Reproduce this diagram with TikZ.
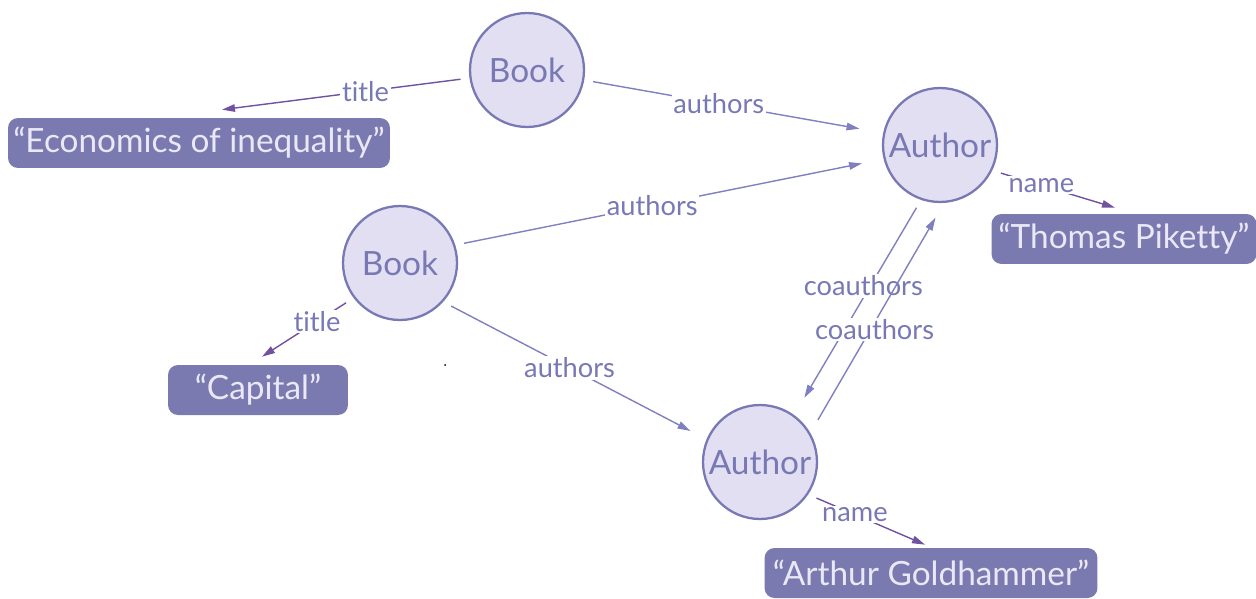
\documentclass[tikz,border=0pt]{standalone}
\usepackage{fontspec}
\setmainfont{Lato}[Ligatures={NoCommon}]
\usetikzlibrary{arrows.meta,calc}

\definecolor{conceptfill}{RGB}{226,223,242}
\definecolor{conceptline}{RGB}{120,120,180}
\definecolor{literalfill}{RGB}{122,122,176}
\definecolor{literaltext}{RGB}{234,232,246}
\definecolor{reledge}{RGB}{128,128,192}
\definecolor{attredge}{RGB}{112,82,160}
\definecolor{lbltext}{RGB}{120,120,182}

\begin{document}
\begin{tikzpicture}[x=0.02cm,y=-0.02cm,
  concept/.style={circle,draw=conceptline,line width=1.3pt,fill=conceptfill,
    minimum size=2.28cm,inner sep=0pt,text=conceptline,font=\fontsize{19}{22}\selectfont},
  literal/.style={rounded corners=0.2cm,fill=literalfill,text=literaltext,
    minimum height=1cm,inner sep=0pt,font=\fontsize{19}{22}\selectfont},
  rel/.style={draw=reledge,line width=0.8pt,-{Triangle[length=0.26cm,width=0.15cm]},shorten <=0.18cm},
  attr/.style={rel,draw=attredge},
  lbl/.style={fill=white,text=lbltext,inner sep=1pt,font=\fontsize{15.5}{18}\selectfont}]
\useasboundingbox (0,0) rectangle (1256,598);

% concepts
\node[concept] (book1) at (527,70) {Book};
\node[concept] (book2) at (400,263) {Book};
\node[concept] (author1) at (940,145) {Author};
\node[concept] (author2) at (760,462) {Author};

% literals
\node[literal,minimum width=7.64cm] (econ) at (199,143) {“Economics of inequality”};
\node[literal,minimum width=5.3cm] (thomas) at (1124,239) {“Thomas Piketty”};
\node[literal,minimum width=3.6cm] (capital) at (258,390) {“Capital”};
\node[literal,minimum width=6.66cm] (arthur) at (931,573) {“Arthur Goldhammer”};

% relations
\draw[attr] (book1.188) -- ($(econ.north)+(23,-8)$) node[lbl,pos=0.42]{title};
\draw[rel,shorten >=0.48cm] (book1.350) -- (author1.168) node[lbl,pos=0.45]{authors};
\draw[rel,shorten >=0.44cm] (book2.18) -- (author1.194) node[lbl,pos=0.46]{authors};
\draw[attr] (author1.334) -- ($(thomas.north)+(-9,-6)$) node[lbl,pos=0.4]{name};
\draw[attr] (book2.217) -- ($(capital.north)+(4,-8)$) node[lbl,pos=0.4]{title};
\draw[rel,shorten >=0.36cm] (book2.318) -- (author2.157) node[lbl,pos=0.48]{authors};
\draw[rel,shorten >=0.4cm] (author1.251) -- (author2.54) node[lbl,pos=0.4,xshift=-0.14cm]{coauthors};
\draw[rel,shorten <=0.3cm,shorten >=0.34cm] (author2.30) -- (author1.274) node[lbl,pos=0.45,xshift=0.08cm]{coauthors};
\draw[attr] (author2.326) -- ($(arthur.north)+(-6,-3)$) node[lbl,pos=0.4]{name};

\fill (445,365) circle (0.02cm);
\end{tikzpicture}
\end{document}
